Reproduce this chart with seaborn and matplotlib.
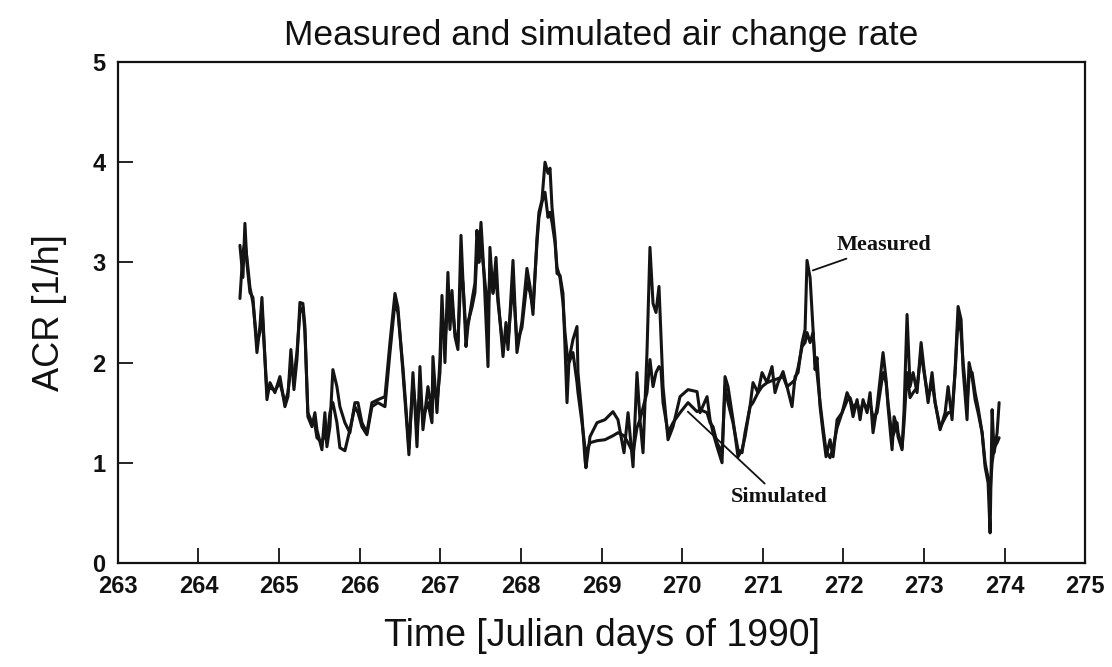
import numpy as np
import pandas as pd
import matplotlib
matplotlib.use("Agg")
import matplotlib.pyplot as plt
import seaborn as sns

# ---- data ----
time = [
    264.514, 264.551, 264.576, 264.600, 264.638, 264.675, 264.725, 264.762, 264.787, 264.849,
    264.886, 264.948, 265.010, 265.072, 265.109, 265.146, 265.184, 265.221, 265.258, 265.295,
    265.320, 265.357, 265.407, 265.444, 265.469, 265.531, 265.568, 265.593, 265.630, 265.667,
    265.717, 265.754, 265.816, 265.878, 265.940, 265.978, 266.027, 266.089, 266.151, 266.226,
    266.313, 266.375, 266.437, 266.474, 266.536, 266.586, 266.610, 266.660, 266.685, 266.710,
    266.747, 266.784, 266.846, 266.896, 266.908, 266.958, 266.995, 267.020, 267.057, 267.094,
    267.119, 267.144, 267.181, 267.218, 267.256, 267.280, 267.318, 267.342, 267.392, 267.429,
    267.454, 267.479, 267.504, 267.541, 267.591, 267.615, 267.653, 267.690, 267.715, 267.777,
    267.814, 267.839, 267.901, 267.950, 268.012, 268.074, 268.112, 268.149, 268.199, 268.223,
    268.260, 268.298, 268.335, 268.360, 268.385, 268.422, 268.447, 268.484, 268.521, 268.546,
    268.571, 268.596, 268.645, 268.695, 268.707, 268.757, 268.794, 268.806, 268.856, 268.943,
    269.042, 269.141, 269.203, 269.278, 269.328, 269.390, 269.439, 269.476, 269.514, 269.563,
    269.600, 269.638, 269.675, 269.712, 269.737, 269.762, 269.824, 269.886, 269.973, 270.072,
    270.184, 270.221, 270.308, 270.345, 270.382, 270.432, 270.494, 270.531, 270.568, 270.630,
    270.692, 270.742, 270.779, 270.841, 270.878, 270.940, 270.990, 271.052, 271.114, 271.151,
    271.189, 271.251, 271.300, 271.362, 271.400, 271.437, 271.487, 271.524, 271.548, 271.586,
    271.623, 271.648, 271.672, 271.710, 271.747, 271.784, 271.834, 271.871, 271.921, 271.983,
    272.045, 272.082, 272.119, 272.169, 272.206, 272.243, 272.293, 272.330, 272.367, 272.417,
    272.454, 272.491, 272.529, 272.553, 272.603, 272.628, 272.665, 272.677, 272.727, 272.752,
    272.789, 272.826, 272.864, 272.913, 272.963, 273.000, 273.050, 273.099, 273.137, 273.199,
    273.261, 273.298, 273.347, 273.385, 273.422, 273.459, 273.484, 273.533, 273.558, 273.596,
    273.633, 273.670, 273.720, 273.757, 273.794, 273.819, 273.844, 273.869, 273.906, 273.931,
]

measured = [
    3.17, 2.85, 3.39, 3.00, 2.70, 2.65, 2.10, 2.36, 2.65, 1.63,
    1.80, 1.70, 1.86, 1.56, 1.66, 2.13, 1.73, 2.03, 2.60, 2.59,
    2.36, 1.46, 1.36, 1.50, 1.33, 1.13, 1.50, 1.16, 1.36, 1.93,
    1.76, 1.56, 1.40, 1.30, 1.60, 1.60, 1.40, 1.30, 1.60, 1.63,
    1.66, 2.20, 2.69, 2.55, 1.90, 1.36, 1.08, 1.90, 1.56, 1.16,
    1.96, 1.33, 1.76, 1.50, 2.06, 1.50, 2.03, 2.67, 2.00, 2.90,
    2.33, 2.72, 2.26, 2.13, 3.27, 2.82, 2.16, 2.36, 2.62, 2.79,
    3.32, 3.05, 3.40, 2.89, 1.96, 3.15, 2.69, 3.05, 2.66, 2.06,
    2.40, 2.13, 3.02, 2.10, 2.41, 2.94, 2.76, 2.48, 3.25, 3.50,
    3.62, 4.00, 3.89, 3.94, 3.55, 3.25, 2.89, 2.87, 2.69, 2.16,
    1.60, 2.03, 2.23, 2.36, 1.90, 1.46, 1.03, 0.95, 1.26, 1.40,
    1.43, 1.51, 1.43, 1.10, 1.50, 0.96, 1.90, 1.43, 1.10, 2.10,
    3.15, 2.59, 2.50, 2.76, 2.26, 1.76, 1.23, 1.36, 1.66, 1.73,
    1.71, 1.50, 1.66, 1.43, 1.30, 1.16, 1.00, 1.86, 1.76, 1.43,
    1.06, 1.13, 1.26, 1.56, 1.80, 1.70, 1.90, 1.80, 1.96, 1.70,
    1.80, 1.91, 1.76, 1.56, 1.86, 1.90, 2.20, 2.33, 3.02, 2.85,
    2.33, 1.93, 2.05, 1.56, 1.30, 1.06, 1.23, 1.06, 1.43, 1.50,
    1.70, 1.63, 1.46, 1.63, 1.43, 1.63, 1.50, 1.70, 1.30, 1.56,
    1.83, 2.10, 1.83, 1.56, 1.13, 1.46, 1.36, 1.26, 1.13, 1.53,
    2.48, 1.76, 1.90, 1.70, 2.20, 1.93, 1.60, 1.90, 1.60, 1.33,
    1.50, 1.76, 1.43, 1.93, 2.56, 2.43, 1.93, 1.43, 2.00, 1.86,
    1.63, 1.50, 1.30, 0.96, 0.80, 0.30, 1.53, 1.10, 1.30, 1.60,
]

simulated = [
    2.64, 3.10, 3.20, 3.05, 2.75, 2.60, 2.20, 2.30, 2.55, 1.70,
    1.75, 1.72, 1.80, 1.60, 1.70, 1.95, 1.85, 2.10, 2.50, 2.55,
    2.30, 1.50, 1.40, 1.38, 1.25, 1.20, 1.30, 1.20, 1.50, 1.60,
    1.40, 1.15, 1.12, 1.33, 1.56, 1.50, 1.36, 1.28, 1.56, 1.60,
    1.56, 2.10, 2.60, 2.50, 1.95, 1.40, 1.15, 1.80, 1.60, 1.30,
    1.70, 1.45, 1.60, 1.40, 1.80, 1.60, 1.90, 2.50, 2.20, 2.60,
    2.40, 2.60, 2.30, 2.20, 2.90, 2.80, 2.30, 2.40, 2.55, 2.70,
    3.10, 3.00, 3.20, 2.90, 2.50, 2.90, 2.70, 2.85, 2.60, 2.15,
    2.30, 2.20, 2.80, 2.20, 2.35, 2.80, 2.70, 2.55, 3.20, 3.45,
    3.60, 3.70, 3.45, 3.50, 3.40, 3.20, 2.95, 2.85, 2.60, 2.30,
    2.10, 2.00, 2.10, 1.80, 1.70, 1.40, 1.15, 1.10, 1.20, 1.22,
    1.23, 1.27, 1.30, 1.27, 1.20, 1.10, 1.35, 1.43, 1.55, 1.70,
    2.03, 1.76, 1.90, 1.96, 1.93, 1.60, 1.30, 1.40, 1.50, 1.60,
    1.51, 1.53, 1.50, 1.40, 1.36, 1.20, 1.10, 1.76, 1.60, 1.40,
    1.13, 1.10, 1.30, 1.56, 1.60, 1.70, 1.76, 1.80, 1.82, 1.83,
    1.84, 1.86, 1.76, 1.80, 1.83, 1.95, 2.16, 2.20, 2.30, 2.20,
    2.30, 2.00, 1.90, 1.60, 1.35, 1.12, 1.05, 1.15, 1.35, 1.50,
    1.62, 1.65, 1.55, 1.60, 1.50, 1.60, 1.55, 1.60, 1.45, 1.50,
    1.70, 1.90, 1.80, 1.60, 1.25, 1.30, 1.40, 1.30, 1.15, 1.40,
    1.90, 1.65, 1.70, 1.75, 2.10, 1.90, 1.65, 1.80, 1.60, 1.35,
    1.45, 1.50, 1.50, 1.90, 2.45, 2.30, 2.00, 1.60, 1.85, 1.90,
    1.70, 1.55, 1.30, 1.00, 0.85, 0.70, 1.00, 1.15, 1.20, 1.25,
]

x_ticks = list(range(263, 276))
y_ticks = [0, 1, 2, 3, 4, 5]

title = "Measured and simulated air change rate"
x_label = "Time [Julian days of 1990]"
y_label = "ACR [1/h]"

# ---- plotting ----
sns.set_style("white", {"xtick.bottom": True, "ytick.left": True})
plt.rcParams['font.family'] = ['Liberation Sans', 'DejaVu Sans']

df = pd.DataFrame({"time": time, "Measured": measured, "Simulated": simulated})
long_df = df.melt(id_vars="time", var_name="series", value_name="acr")

fig = plt.figure(figsize=(11.12, 6.67), dpi=100)
ax = fig.add_axes([0.106, 0.156, 0.870, 0.751])

sns.lineplot(data=long_df, x="time", y="acr", units="series", estimator=None,
             sort=False, color="#141414", linewidth=2.2, ax=ax, legend=False)

ax.set_xlim(263, 275)
ax.set_ylim(0, 5)
ax.set_xticks(x_ticks)
ax.set_yticks(y_ticks)
ax.tick_params(axis="both", direction="in", length=11, width=1.3, colors="#111111",
               labelsize=17, pad=9, bottom=True, left=True)
for lab in ax.get_xticklabels() + ax.get_yticklabels():
    lab.set_fontweight("bold")
for s in ax.spines.values():
    s.set_visible(True)
    s.set_color("#111111")
    s.set_linewidth(1.6)

ax.set_title(title, fontsize=25.5, pad=12, color="#111111")
ax.set_xlabel(x_label, fontsize=27, labelpad=14, color="#111111")
ax.set_ylabel(y_label, fontsize=26, labelpad=18, color="#111111")

serif = ['Liberation Serif', 'DejaVu Serif']
ax.annotate("Measured", xy=(271.62, 2.92), xytext=(271.92, 3.17),
            fontsize=16, fontweight="bold", family=serif, color="#111111",
            ha="left", va="center",
            arrowprops=dict(arrowstyle="-", color="#111111", lw=1.3, shrinkA=0, shrinkB=0))
ax.annotate("Simulated", xy=(270.07, 1.51), xytext=(270.60, 0.66),
            fontsize=16, fontweight="bold", family=serif, color="#111111",
            ha="left", va="center",
            arrowprops=dict(arrowstyle="-", color="#111111", lw=1.3, shrinkA=0, shrinkB=0))

fig.savefig("out.png", dpi=100)
